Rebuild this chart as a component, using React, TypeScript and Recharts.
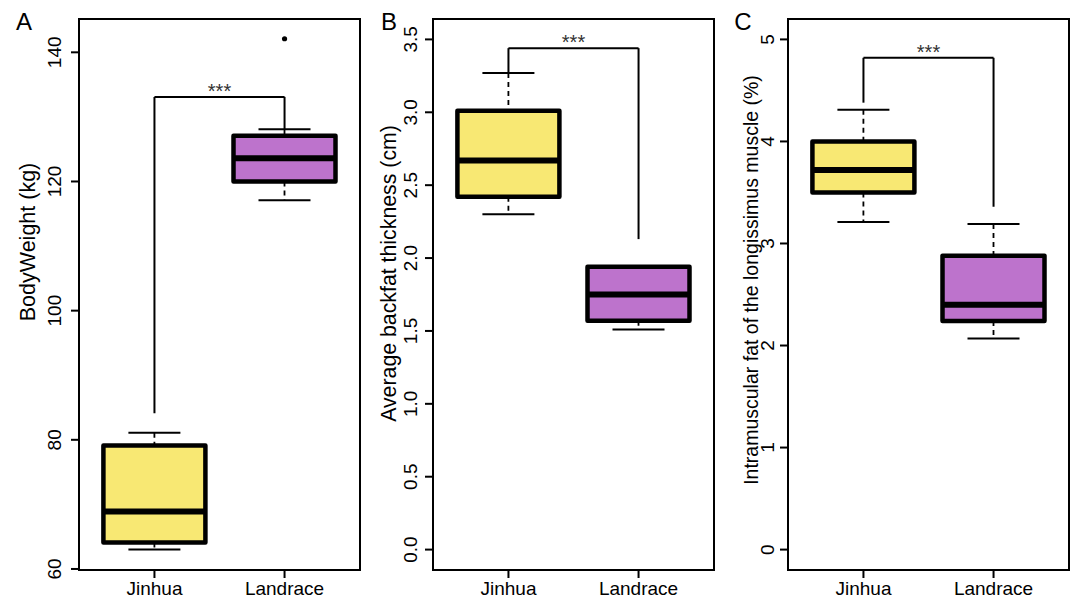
import React from 'react';
import {
  ComposedChart,
  Bar,
  Scatter,
  XAxis,
  YAxis,
  ReferenceLine,
  ReferenceArea,
} from 'recharts';

const groups = ['Jinhua', 'Landrace'];
const groupPos = [1, 2];
const xDomain = [0.42, 2.58];

// A: body weight (kg)
const weightMin = [63.0, 117.1];
const weightQ1 = [64.1, 120.0];
const weightMedian = [68.9, 123.6];
const weightQ3 = [79.1, 127.1];
const weightMax = [81.1, 128.1];
const weightOutlier = [null, 142.1];
const weightTicks = [60, 80, 100, 120, 140];
const weightBracket = [133.1, 84.1, 128.1]; // top, Jinhua leg end, Landrace leg end

// B: average backfat thickness (cm)
const backfatMin = [2.30, 1.51];
const backfatQ1 = [2.42, 1.57];
const backfatMedian = [2.67, 1.75];
const backfatQ3 = [3.01, 1.94];
const backfatMax = [3.27, 1.94];
const backfatOutlier = [null, null];
const backfatTicks = [0, 0.5, 1.0, 1.5, 2.0, 2.5, 3.0, 3.5];
const backfatBracket = [3.44, 3.27, 2.13];

// C: intramuscular fat (%)
const imfMin = [3.21, 2.07];
const imfQ1 = [3.50, 2.24];
const imfMedian = [3.72, 2.40];
const imfQ3 = [4.00, 2.88];
const imfMax = [4.31, 3.19];
const imfOutlier = [null, null];
const imfTicks = [0, 1, 2, 3, 4, 5];
const imfBracket = [4.82, 4.38, 3.36];

const BOX_COLORS = ['#F8E873', '#BD73CC'];
const FONT = '"Liberation Sans", Arial, Helvetica, sans-serif';

const panels = [
  {
    letter: 'A', title: 'BodyWeight (kg)',
    min: weightMin, q1: weightQ1, median: weightMedian, q3: weightQ3, max: weightMax,
    outlier: weightOutlier, ticks: weightTicks, bracket: weightBracket,
    domain: [59.84, 145.16], fmt: (v: number) => String(v),
    left: 0, width: 365, axisWidth: 79, tickGap: 9.5,
    titleX: 35, titleY: 242, titleSize: 21.5,
  },
  {
    letter: 'B', title: 'Average backfat thickness (cm)',
    min: backfatMin, q1: backfatQ1, median: backfatMedian, q3: backfatQ3, max: backfatMax,
    outlier: backfatOutlier, ticks: backfatTicks, bracket: backfatBracket,
    domain: [-0.14, 3.64], fmt: (v: number) => v.toFixed(1),
    left: 365, width: 354, axisWidth: 68, tickGap: 8.3,
    titleX: 31, titleY: 273.5, titleSize: 21.3,
  },
  {
    letter: 'C', title: 'Intramuscular fat of the longissimus muscle (%)',
    min: imfMin, q1: imfQ1, median: imfMedian, q3: imfQ3, max: imfMax,
    outlier: imfOutlier, ticks: imfTicks, bracket: imfBracket,
    domain: [-0.2, 5.2], fmt: (v: number) => String(v),
    left: 719, width: 355, axisWidth: 69, tickGap: 6.3,
    titleX: 38.5, titleY: 280, titleSize: 19.5,
  },
];

const BoxShape = (props: any) => {
  const { x, y, width, height, payload, index } = props;
  const { lo, hi, q1, median, q3 } = payload;
  const k = hi === lo ? 0 : height / (hi - lo);
  const py = (v: number) => y + (hi - v) * k;
  const cx = x + width / 2;
  const cap = width / 4;
  return (
    <g>
      <line x1={cx} x2={cx} y1={py(hi)} y2={py(q3)} stroke="#000" strokeWidth={1.8} strokeDasharray="5 4" />
      <line x1={cx} x2={cx} y1={py(q1)} y2={py(lo)} stroke="#000" strokeWidth={1.8} strokeDasharray="5 4" />
      <line x1={cx - cap} x2={cx + cap} y1={py(hi)} y2={py(hi)} stroke="#000" strokeWidth={2} />
      <line x1={cx - cap} x2={cx + cap} y1={py(lo)} y2={py(lo)} stroke="#000" strokeWidth={2} />
      <rect
        x={x + 1}
        y={py(q3)}
        width={width - 2}
        height={py(q1) - py(q3)}
        fill={BOX_COLORS[index]}
        stroke="#000"
        strokeWidth={4.5}
        strokeLinejoin="round"
      />
      <line x1={x + 1} x2={x + width - 1} y1={py(median)} y2={py(median)} stroke="#000" strokeWidth={6} />
    </g>
  );
};

const OutlierDot = (props: any) => {
  const { cx, cy, payload } = props;
  if (payload == null || payload.outlier == null) return null;
  return <circle cx={cx} cy={cy} r={2.6} fill="#000" />;
};

const YTick = (props: any) => {
  const { x, y, payload, fmt } = props;
  return (
    <text
      x={x}
      y={y}
      transform={`rotate(-90 ${x} ${y})`}
      textAnchor="middle"
      fontSize={19}
      fontFamily={FONT}
      fill="#000"
    >
      {fmt(payload.value)}
    </text>
  );
};

const axisStroke = { stroke: '#000', strokeWidth: 2 };

function BoxPanel({ p }: { p: any }) {
  const data = groups.map((g, i) => ({
    group: g,
    pos: groupPos[i],
    range: [p.min[i], p.max[i]],
    lo: p.min[i],
    q1: p.q1[i],
    median: p.median[i],
    q3: p.q3[i],
    hi: p.max[i],
    outlier: p.outlier[i],
  }));
  const [top, leftEnd, rightEnd] = p.bracket;
  return (
    <div style={{ position: 'absolute', left: p.left, top: 0 }}>
      <ComposedChart
        width={p.width}
        height={602}
        data={data}
        margin={{ top: 19, right: 5, bottom: 0, left: 0 }}
        barCategoryGap="10%"
      >
        <XAxis
          type="number"
          dataKey="pos"
          domain={xDomain}
          allowDataOverflow
          ticks={groupPos}
          interval={0}
          tickFormatter={(v: number) => groups[groupPos.indexOf(v)]}
          height={32}
          tickSize={8}
          tickMargin={4}
          tick={{ fill: '#000', fontSize: 19, fontFamily: FONT }}
          axisLine={axisStroke}
          tickLine={axisStroke}
        />
        <YAxis
          type="number"
          domain={p.domain}
          allowDataOverflow
          ticks={p.ticks}
          interval={0}
          width={p.axisWidth}
          tickSize={8}
          tickMargin={p.tickGap}
          tick={<YTick fmt={p.fmt} />}
          axisLine={axisStroke}
          tickLine={axisStroke}
        />
        <ReferenceArea
          x1={xDomain[0]}
          x2={xDomain[1]}
          y1={p.domain[0]}
          y2={p.domain[1]}
          fill="none"
          fillOpacity={0}
          stroke="#000"
          strokeWidth={2}
          ifOverflow="visible"
        />
        <Bar dataKey="range" barSize={104} shape={<BoxShape />} isAnimationActive={false} />
        <Scatter dataKey="outlier" shape={<OutlierDot />} isAnimationActive={false} />
        <ReferenceLine
          segment={[{ x: groupPos[0], y: top }, { x: groupPos[1], y: top }]}
          stroke="#000"
          strokeWidth={2}
          label={{ value: '***', position: 'top', offset: -1, fontSize: 20, fill: '#333', fontFamily: FONT }}
        />
        <ReferenceLine
          segment={[{ x: groupPos[0], y: top }, { x: groupPos[0], y: leftEnd }]}
          stroke="#000"
          strokeWidth={2}
        />
        <ReferenceLine
          segment={[{ x: groupPos[1], y: top }, { x: groupPos[1], y: rightEnd }]}
          stroke="#000"
          strokeWidth={2}
        />
        <text x={24} y={30} textAnchor="middle" fontSize={24} fontFamily={FONT} fill="#000">
          {p.letter}
        </text>
        <text
          x={p.titleX}
          y={p.titleY}
          transform={`rotate(-90 ${p.titleX} ${p.titleY})`}
          textAnchor="middle"
          fontSize={p.titleSize}
          fontFamily={FONT}
          fill="#000"
        >
          {p.title}
        </text>
      </ComposedChart>
    </div>
  );
}

export default function App() {
  return (
    <div style={{ position: 'absolute', left: 0, top: 0, width: 1078, height: 602, background: '#fff', fontFamily: FONT }}>
      {panels.map((p) => (
        <BoxPanel key={p.letter} p={p} />
      ))}
    </div>
  );
}
